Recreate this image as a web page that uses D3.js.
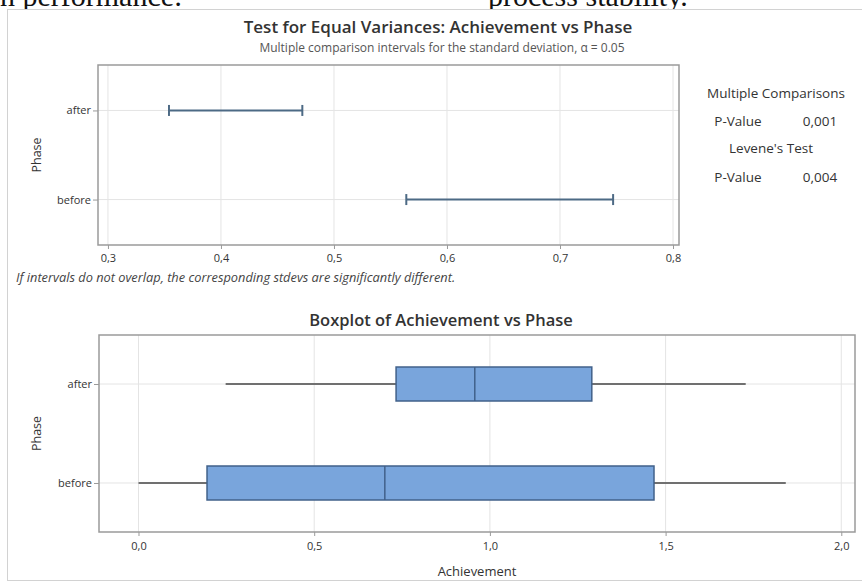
<!DOCTYPE html>
<html><head><meta charset="utf-8">
<script src="https://cdn.jsdelivr.net/npm/d3@7"></script>
<style>
body{margin:0;background:#fff}
svg{display:block}
text{font-family:"Open Sans","Noto Sans",sans-serif}
</style>
</head><body>
<svg id="c" width="862" height="581"></svg>
<script>
// ---- data ----
const phases = ["after", "before"];
const ciLower = [0.354, 0.564];
const ciUpper = [0.472, 0.747];
const ciTicks = [0.3, 0.4, 0.5, 0.6, 0.7, 0.8];
const whiskerLow = [0.248, 0.0];
const q1 = [0.733, 0.195];
const median = [0.957, 0.701];
const q3 = [1.290, 1.467];
const whiskerHigh = [1.728, 1.842];
const boxTicks = [0.0, 0.5, 1.0, 1.5, 2.0];
const panelLines = ["Multiple Comparisons", "P-Value", "Levene's Test", "P-Value"];
const panelValues = [null, "0,001", null, "0,004"];

const svg = d3.select("#c");
const fmt = v => d3.format(".1f")(v).replace(".", ",");
const gridCol = "#e4e4e4", frameCol = "#9a9a9a", txt = "#333";

// document text cut at the top
svg.append("text").attr("x", 0).attr("y", 6).attr("font-size", 30)
  .style("font-family", "'Liberation Serif',serif").attr("fill", "#111").text("n performance:");
svg.append("text").attr("x", 488).attr("y", 6).attr("font-size", 30)
  .style("font-family", "'Liberation Serif',serif").attr("fill", "#111").text("process stability.");

// outer frame
svg.append("rect").attr("x", 7.5).attr("y", 9.5).attr("width", 870).attr("height", 571)
  .attr("fill", "#fff").attr("stroke", "#d2d2d2");

// ---------- top chart ----------
const T = {l: 98, r: 679, t: 65, b: 245};
const xT = d3.scaleLinear().domain([0.2912, 0.8053]).range([T.l, T.r]);
const yT = d3.scalePoint().domain(phases).range([T.t, T.b]).padding(0.51);

svg.append("text").attr("x", 438).attr("y", 33).attr("text-anchor", "middle")
  .attr("font-size", 17).attr("font-weight", 600).attr("fill", txt)
  .text("Test for Equal Variances: Achievement vs Phase");
svg.append("text").attr("x", 442).attr("y", 52).attr("text-anchor", "middle")
  .attr("font-size", 12).attr("fill", "#555")
  .text("Multiple comparison intervals for the standard deviation, α = 0.05");

const gT = svg.append("g");
gT.selectAll(".vg").data(ciTicks).join("line")
  .attr("x1", d => xT(d)).attr("x2", d => xT(d)).attr("y1", T.t).attr("y2", T.b)
  .attr("stroke", gridCol);
gT.selectAll(".hg").data(phases).join("line")
  .attr("x1", T.l).attr("x2", T.r).attr("y1", d => yT(d)).attr("y2", d => yT(d))
  .attr("stroke", gridCol);

const axTB = gT.append("g").attr("transform", `translate(0,${T.b})`)
  .call(d3.axisBottom(xT).tickValues(ciTicks).tickFormat(fmt).tickSize(4).tickPadding(5));
const axTL = gT.append("g").attr("transform", `translate(${T.l},0)`)
  .call(d3.axisLeft(yT).tickSize(5).tickPadding(2));
[axTB, axTL].forEach(a => {
  a.select(".domain").remove();
  a.selectAll("line").attr("stroke", frameCol);
  a.selectAll("text").attr("fill", txt).attr("font-size", 11)
    .style("font-family", "'Open Sans',sans-serif");
});
gT.append("rect").attr("x", T.l).attr("y", T.t).attr("width", T.r - T.l).attr("height", T.b - T.t)
  .attr("fill", "none").attr("stroke", frameCol).attr("stroke-width", 1.5);

const ivCol = "#4d6a85";
phases.forEach((p, i) => {
  const y = yT(p);
  gT.append("line").attr("x1", xT(ciLower[i])).attr("x2", xT(ciUpper[i]))
    .attr("y1", y).attr("y2", y).attr("stroke", ivCol).attr("stroke-width", 2);
  [ciLower[i], ciUpper[i]].forEach(v => {
    gT.append("line").attr("x1", xT(v)).attr("x2", xT(v)).attr("y1", y - 5.5).attr("y2", y + 5.5)
      .attr("stroke", ivCol).attr("stroke-width", 2);
  });
});

svg.append("text").attr("transform", `translate(41,${(T.t + T.b) / 2}) rotate(-90)`)
  .attr("text-anchor", "middle").attr("font-size", 12.5).attr("fill", txt).text("Phase");

// right panel
const panelY = [93, 121, 148, 177];
panelLines.forEach((s, i) => {
  if (panelValues[i] === null) {
    svg.append("text").attr("x", i === 0 ? 776 : 771).attr("y", panelY[i] + 5).attr("text-anchor", "middle")
      .attr("font-size", 13.5).attr("fill", txt).text(s);
  } else {
    svg.append("text").attr("x", 738).attr("y", panelY[i] + 5).attr("text-anchor", "middle")
      .attr("font-size", 13.5).attr("fill", txt).text(s);
    svg.append("text").attr("x", 820).attr("y", panelY[i] + 5).attr("text-anchor", "middle")
      .attr("font-size", 13.5).attr("fill", txt).text(panelValues[i]);
  }
});

svg.append("text").attr("x", 16).attr("y", 282).attr("font-size", 12.8)
  .attr("font-style", "italic").attr("fill", "#444")
  .text("If intervals do not overlap, the corresponding stdevs are significantly different.");

// ---------- bottom chart ----------
const B = {l: 99, r: 855, t: 335, b: 532};
const xB = d3.scaleLinear().domain([-0.1124, 2.039]).range([B.l, B.r]);
const yB = d3.scalePoint().domain(phases).range([B.t, B.b]).padding(0.495);

svg.append("text").attr("x", 441).attr("y", 326).attr("text-anchor", "middle")
  .attr("font-size", 16.5).attr("font-weight", 600).attr("fill", txt)
  .text("Boxplot of Achievement vs Phase");

const gB = svg.append("g");
gB.selectAll(".vg").data(boxTicks).join("line")
  .attr("x1", d => xB(d)).attr("x2", d => xB(d)).attr("y1", B.t).attr("y2", B.b)
  .attr("stroke", gridCol);
gB.selectAll(".hg").data(phases).join("line")
  .attr("x1", B.l).attr("x2", B.r).attr("y1", d => yB(d)).attr("y2", d => yB(d))
  .attr("stroke", gridCol);

const axBB = gB.append("g").attr("transform", `translate(0,${B.b})`)
  .call(d3.axisBottom(xB).tickValues(boxTicks).tickFormat(fmt).tickSize(4).tickPadding(6));
const axBL = gB.append("g").attr("transform", `translate(${B.l},0)`)
  .call(d3.axisLeft(yB).tickSize(5).tickPadding(2));
[axBB, axBL].forEach(a => {
  a.select(".domain").remove();
  a.selectAll("line").attr("stroke", frameCol);
  a.selectAll("text").attr("fill", txt).attr("font-size", 11)
    .style("font-family", "'Open Sans',sans-serif");
});
gB.append("rect").attr("x", B.l).attr("y", B.t).attr("width", B.r - B.l).attr("height", B.b - B.t)
  .attr("fill", "none").attr("stroke", frameCol).attr("stroke-width", 1.5);

const boxH = 34, wCol = "#707070", bStroke = "#41618a", bFill = "#79a5dc";
phases.forEach((p, i) => {
  const y = yB(p);
  gB.append("line").attr("x1", xB(whiskerLow[i])).attr("x2", xB(q1[i])).attr("y1", y).attr("y2", y)
    .attr("stroke", wCol).attr("stroke-width", 2);
  gB.append("line").attr("x1", xB(q3[i])).attr("x2", xB(whiskerHigh[i])).attr("y1", y).attr("y2", y)
    .attr("stroke", wCol).attr("stroke-width", 2);
  gB.append("rect").attr("x", xB(q1[i])).attr("y", y - boxH / 2)
    .attr("width", xB(q3[i]) - xB(q1[i])).attr("height", boxH)
    .attr("fill", bFill).attr("stroke", bStroke).attr("stroke-width", 1.5);
  gB.append("line").attr("x1", xB(median[i])).attr("x2", xB(median[i]))
    .attr("y1", y - boxH / 2).attr("y2", y + boxH / 2)
    .attr("stroke", bStroke).attr("stroke-width", 1.5);
});

svg.append("text").attr("transform", `translate(41,${(B.t + B.b) / 2}) rotate(-90)`)
  .attr("text-anchor", "middle").attr("font-size", 12.5).attr("fill", txt).text("Phase");
svg.append("text").attr("x", (B.l + B.r) / 2).attr("y", 576).attr("text-anchor", "middle")
  .attr("font-size", 13).attr("fill", txt).text("Achievement");
</script>
</body></html>
